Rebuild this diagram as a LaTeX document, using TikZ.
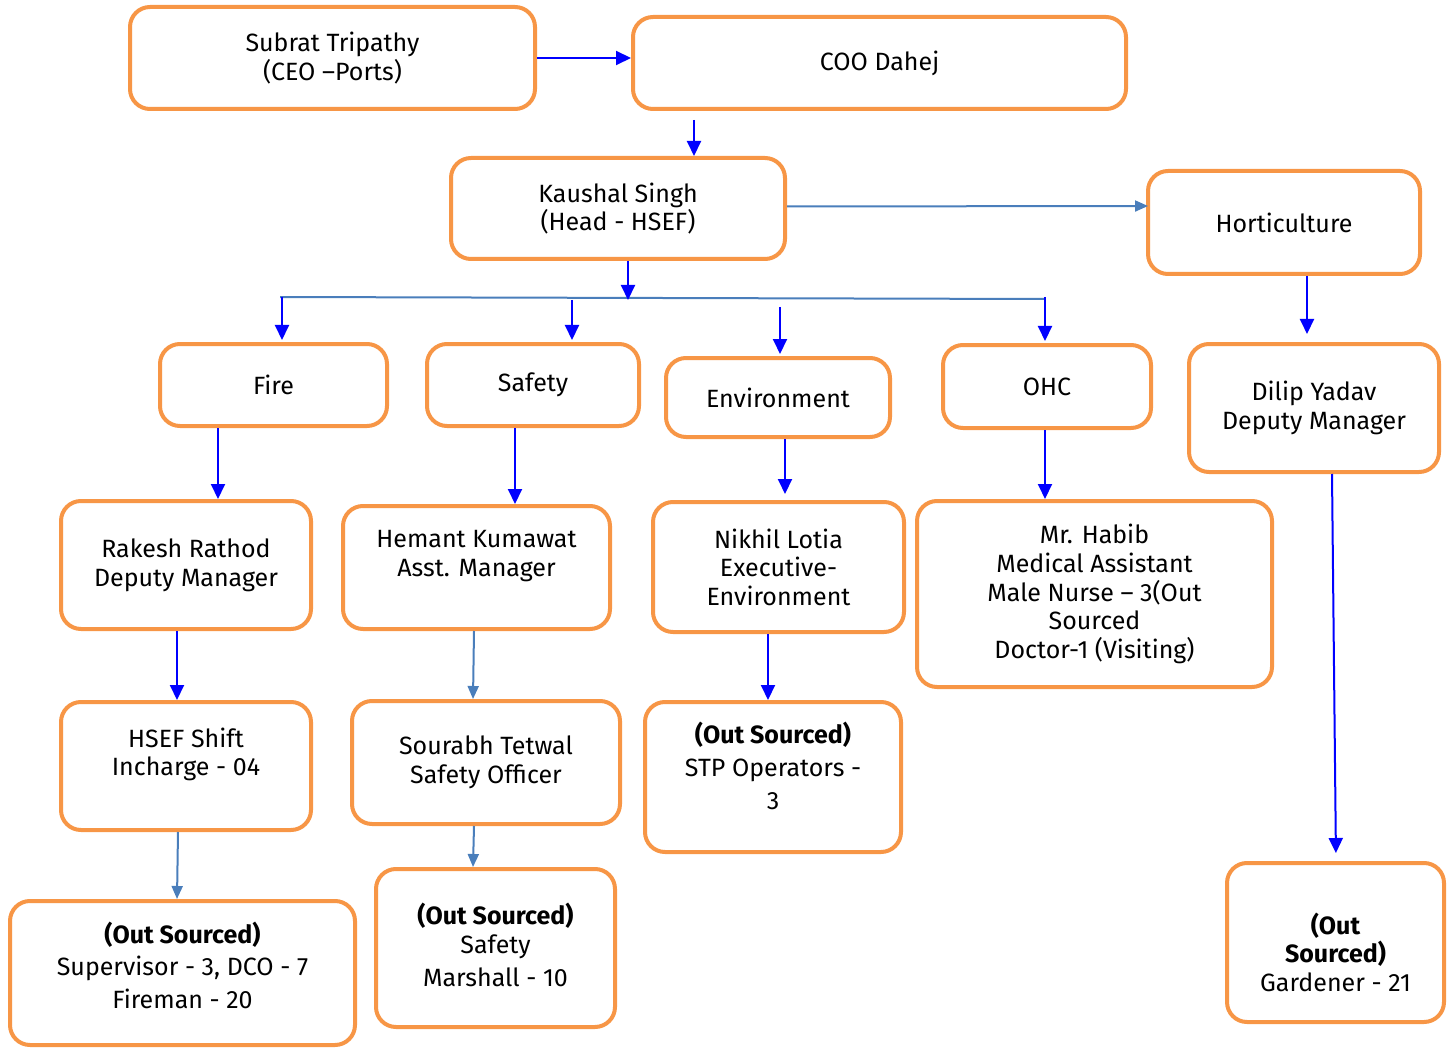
\documentclass[tikz,border=0pt]{standalone}
\usepackage{fontspec}
\setmainfont{Fira Sans}
\usetikzlibrary{arrows.meta}
\definecolor{boxorange}{HTML}{F79646}
\definecolor{lineblue}{HTML}{0000FF}
\definecolor{steel}{HTML}{4A7EBB}
\tikzset{
  unit/.style={draw=boxorange,line width=2pt,rounded corners=10pt,fill=white,align=center,
    inner sep=0pt,font=\fontsize{12.5}{14.3}\selectfont},
  sz/.style 2 args={minimum width=#1*0.5pt,minimum height=#2*0.5pt},
  ar/.style={draw=lineblue,line width=1pt,-{Triangle[width=7pt,length=7.5pt]}},
  arsteel/.style={draw=steel,line width=1pt,-{Triangle[width=5.5pt,length=6.5pt]}}
}
\begin{document}
\begin{tikzpicture}[x=0.5pt,y=-0.5pt,line join=round]
\useasboundingbox (0,0) rectangle (1451,1048);
% top
\node[unit,sz={405}{102}] (ceo) at (332.5,58) {Subrat Tripathy\\(CEO --Ports)};
\node[unit,sz={493}{92}] (coo) at (879.5,63) {COO Dahej};
\node[unit,sz={334}{101}] (head) at (618,208.5) {Kaushal Singh\\(Head - HSEF)};
\node[unit,sz={272}{103}] (horti) at (1284,222.5) {Horticulture};
% departments
\node[unit,sz={227}{82}] (fire) at (273.5,385) {Fire};
\node[unit,sz={212}{82}] (safety) at (533,385) {Safety};
\node[unit,sz={224}{79}] (env) at (778,397.5) {Environment};
\node[unit,sz={208}{83}] (ohc) at (1047,386.5) {OHC};
\node[unit,sz={250}{128}] (dilip) at (1314,408) {Dilip Yadav\\Deputy Manager};
% managers
\node[unit,sz={250}{128}] (rakesh) at (186,565) {Rakesh Rathod\\Deputy Manager};
\node[unit,sz={267}{123}] (hemant) at (476.5,567.5) {Hemant Kumawat\\Asst. Manager\\[0pt]};
\node[unit,sz={251}{130}] (nikhil) at (778.5,567) {Nikhil Lotia\\Executive-\\Environment};
\node[unit,sz={355}{186}] (habib) at (1094.5,594) {Mr. Habib\\Medical Assistant\\Male Nurse -- 3(Out\\Sourced\\Doctor-1 (Visiting)};
% staff
\node[unit,sz={250}{128}] (shift) at (186,766) {HSEF Shift\\Incharge - 04\\[0pt]};
\node[unit,sz={268}{123}] (sourabh) at (486,762.5) {Sourabh Tetwal\\Safety Officer};
\node[unit,sz={256}{150}] (stp) at (773,777) {\bfseries (Out Sourced)\\[2pt]STP Operators -\\[2pt]3\\[-3pt]};
\node[unit,sz={345}{144}] (ofire) at (182.5,973) {\bfseries (Out Sourced)\\[2pt]Supervisor - 3, DCO - 7\\[2pt]Fireman - 20\\[-6.5pt]};
\node[unit,sz={239}{158}] (osafety) at (495.5,948) {\bfseries (Out Sourced)\\Safety\\[2pt]Marshall - 10\\[-11pt]};
\node[unit,sz={217}{159}] (garden) at (1335.5,942.5) {\\[6pt]\bfseries (Out\\\bfseries Sourced)\\Gardener - 21};
% connectors
\draw[ar] (ceo.east) -- (ceo.east -| coo.west);
\coordinate (c1) at (694,120);
\draw[ar] (c1) -- (c1 |- head.north);
\draw[arsteel] (head.east) ++(0,-2) -- (1148,206);
\coordinate (busL) at (280,297);
\coordinate (busR) at (1045,299);
\draw[steel,line width=1pt] (busL) -- (busR);
\coordinate (busmid) at (628,300);
\draw[ar] (head.south -| busmid) -- (busmid);
\foreach \x/\y/\n in {282/297/fire,572/300/safety,780/307/env,1045/297/ohc}{
  \coordinate (t) at (\x,\y);
  \draw[ar,shorten >=1pt] (t) -- (t |- \n.north);
}
\draw[ar] (218,0 |- fire.south) -- (218,0 |- rakesh.north);
\draw[ar] (515,0 |- safety.south) -- (515,0 |- hemant.north);
\draw[ar,shorten >=3pt] (785,0 |- env.south) -- (785,0 |- nikhil.north);
\draw[ar] (1045,0 |- ohc.south) -- (1045,0 |- habib.north);
\draw[ar,shorten >=4pt] (1307,0 |- horti.south) -- (1307,0 |- dilip.north);
\draw[ar,shorten >=4pt] (1332,0 |- dilip.south) -- (1336,0 |- garden.north);
\draw[ar] (177,0 |- rakesh.south) -- (177,0 |- shift.north);
\draw[arsteel] (474,0 |- hemant.south) -- (473,0 |- sourabh.north);
\draw[ar] (768,0 |- nikhil.south) -- (768,0 |- stp.north);
\draw[arsteel] (178,0 |- shift.south) -- (177,0 |- ofire.north);
\draw[arsteel] (474,0 |- sourabh.south) -- (473,0 |- osafety.north);
\end{tikzpicture}
\end{document}
